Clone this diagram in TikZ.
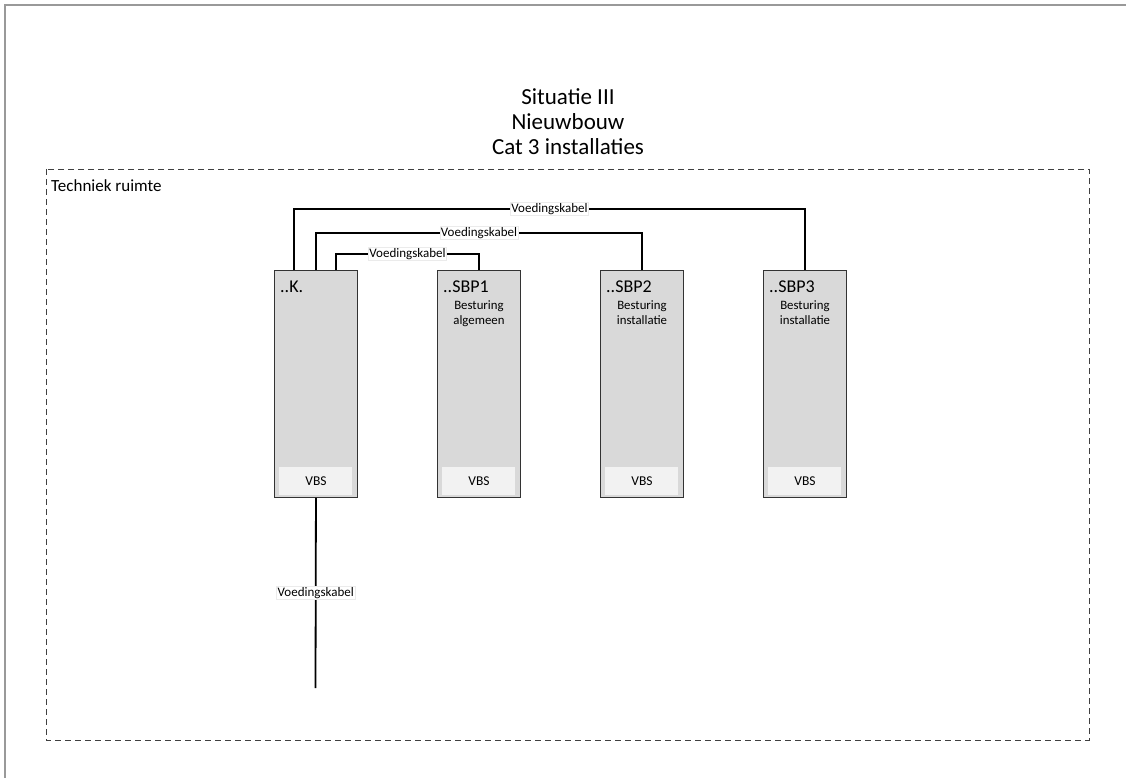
\documentclass[tikz,border=0pt]{standalone}
\usepackage{fontspec}
\setmainfont{Carlito}
\usetikzlibrary{calc}
\begin{document}
\begin{tikzpicture}[x=1pt,y=-1pt,
  cab/.style={draw=black!80, fill=black!15, line width=0.9pt, minimum width=83pt, minimum height=227pt, anchor=north west, inner sep=0pt},
  vbs/.style={fill=black!5, minimum width=73pt, minimum height=28pt, inner sep=0pt, font=\fontsize{13.5}{15}\selectfont},
  cable/.style={draw=black, line width=1.8pt},
  lbl/.style={fill=white, draw=black!8, line width=0.4pt, inner sep=1pt, font=\fontsize{13}{15}\selectfont},
  ttl/.style={anchor=base west, inner sep=0pt, font=\fontsize{18}{21}\selectfont},
  sub/.style={anchor=north, align=center, inner sep=0pt, font=\fontsize{12.8}{15.5}\selectfont}]
\useasboundingbox (0,0) rectangle (1126,778);
\fill[white] (0,0) rectangle (1126,778);
% outer frame
\draw[black!40, line width=1.5pt] (5,778) -- (5,5) -- (1126,5);
% title
\node[align=center, inner sep=0pt, font=\fontsize{23}{25}\selectfont] (title) at (568,122) {Situatie III\\Nieuwbouw\\Cat 3 installaties};
% room
\draw[dashed, dash pattern=on 6pt off 4pt, black!75, line width=0.8pt] (46,169) rectangle (1089,740);
\node[anchor=base west, inner sep=0pt, font=\fontsize{17}{20}\selectfont] (room) at (51,191) {Techniek ruimte};
% cabinets
\node[cab] (K) at (274,270) {};
\node[cab] (S1) at (437,270) {};
\node[cab] (S2) at (600,270) {};
\node[cab] (S3) at (763,270) {};
\foreach \n/\t in {K/..K., S1/..SBP1, S2/..SBP2, S3/..SBP3}{
  \node[ttl] (\n t) at ($(\n.north west)+(6,22)$) {\t};
  \node[vbs] (\n v) at ($(\n.south)+(0,-17)$) {VBS};
}
\node[sub] (S1s) at ($(S1.north)+(0,30)$) {Besturing\\algemeen};
\node[sub] (S2s) at ($(S2.north)+(0,30)$) {Besturing\\installatie};
\node[sub] (S3s) at ($(S3.north)+(0,30)$) {Besturing\\installatie};
% cables
\draw[cable] ([xshift=20pt]K.north west) -- ++(0,-61) -| node[lbl, pos=0.25] {Voedingskabel} (S3.north);
\draw[cable] ([xshift=42pt]K.north west) -- ++(0,-37) -| node[lbl, pos=0.25] {Voedingskabel} (S2.north);
\draw[cable] ([xshift=62pt]K.north west) -- ++(0,-16) -| node[lbl, pos=0.25] {Voedingskabel} (S1.north);
\coordinate (feed) at (315.5,688);
\draw[cable] (K.south) -- node[lbl] {Voedingskabel} (feed);
\end{tikzpicture}
\end{document}
